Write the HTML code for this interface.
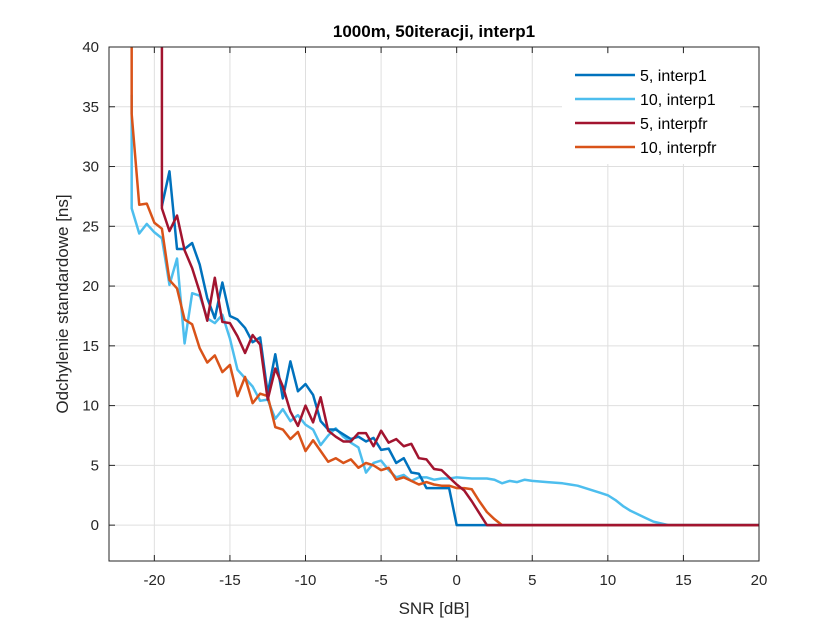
<!DOCTYPE html>
<html><head><meta charset="utf-8"><style>
body{margin:0;background:#fff;font-family:"Liberation Sans",Arial,sans-serif}
</style></head><body>
<svg id="c" width="840" height="630" xmlns="http://www.w3.org/2000/svg"></svg>
<script>
const xs5 = [-19.5,-19,-18.5,-18,-17.5,-17,-16.5,-16,-15.5,-15,-14.5,-14,-13.5,-13,-12.5,-12,-11.5,-11,-10.5,-10,-9.5,-9,-8.5,-8,-7.5,-7,-6.5,-6,-5.5,-5,-4.5,-4,-3.5,-3,-2.5,-2,-1.5,-1,-0.5,0,20];
const blue5 = [26.7,29.6,23.1,23.1,23.6,21.8,19.0,17.3,20.3,17.5,17.2,16.5,15.3,15.7,11.0,14.3,10.6,13.7,11.2,11.8,10.9,8.7,8.0,8.0,7.6,7.2,7.4,7.0,7.3,6.3,6.4,5.2,5.6,4.4,4.3,3.1,3.1,3.1,3.1,0,0];
const xsR = [-19.5,-19.5,-19,-18.5,-18,-17.5,-17,-16.5,-16,-15.5,-15,-14.5,-14,-13.5,-13,-12.5,-12,-11.5,-11,-10.5,-10,-9.5,-9,-8.5,-8,-7.5,-7,-6.5,-6,-5.5,-5,-4.5,-4,-3.5,-3,-2.5,-2,-1.5,-1,-0.5,0,0.5,1,1.5,2,20];
const red5 = [45,26.5,24.6,25.9,23.0,21.5,19.5,17.1,20.7,17.0,16.9,15.8,14.4,15.9,15.1,10.5,13.1,11.6,9.5,8.3,10.0,8.6,10.7,7.9,7.4,7.0,7.0,7.7,7.7,6.6,7.9,6.9,7.2,6.6,6.8,5.6,5.5,4.7,4.6,4.0,3.4,2.9,2.0,1.0,0,0];
const xsL = [-21.5,-21.5,-21,-20.5,-20,-19.5,-19,-18.5,-18,-17.5,-17,-16.5,-16,-15.5,-15,-14.5,-14,-13.5,-13,-12.5,-12,-11.5,-11,-10.5,-10,-9.5,-9,-8.5,-8,-7.5,-7,-6.5,-6,-5.5,-5,-4.5,-4,-3.5,-3,-2.5,-2,-1.5,-1,-0.5,0,1,2,2.5,3,3.5,4,4.5,5,6,7,7.5,8,8.5,9,9.5,10,10.5,11,11.5,12,12.5,13,14,20];
const blue10 = [36,26.5,24.4,25.2,24.5,24.0,20.1,22.3,15.2,19.4,19.2,17.3,16.9,17.6,15.6,13.0,12.3,11.6,10.4,10.5,8.9,9.7,8.7,9.2,8.4,8.0,6.7,7.5,8.1,7.4,6.9,6.5,4.4,5.2,5.4,4.6,4.0,4.2,3.7,4.0,4.0,3.8,3.9,3.9,4.0,3.9,3.9,3.8,3.5,3.7,3.6,3.8,3.7,3.6,3.5,3.4,3.3,3.1,2.9,2.7,2.5,2.1,1.6,1.2,0.9,0.6,0.3,0,0];
const xsO = [-21.5,-21.5,-21,-20.5,-20,-19.5,-19,-18.5,-18,-17.5,-17,-16.5,-16,-15.5,-15,-14.5,-14,-13.5,-13,-12.5,-12,-11.5,-11,-10.5,-10,-9.5,-9,-8.5,-8,-7.5,-7,-6.5,-6,-5.5,-5,-4.5,-4,-3.5,-3,-2.5,-2,-1.5,-1,-0.5,0,0.5,1,1.5,2,2.5,3,20];
const orange10 = [45,34.4,26.8,26.9,25.3,24.8,20.5,19.8,17.2,16.8,14.8,13.6,14.2,12.8,13.4,10.8,12.4,10.2,11.0,10.8,8.2,8.0,7.2,7.8,6.2,7.1,6.2,5.3,5.6,5.2,5.5,4.8,5.2,5.0,4.6,4.8,3.8,4.0,3.7,3.4,3.6,3.4,3.3,3.3,3.1,3.1,3.0,2.0,1.1,0.5,0,0];
const xTicks = [-20,-15,-10,-5,0,5,10,15,20];
const yTicks = [0,5,10,15,20,25,30,35,40];

const NS="http://www.w3.org/2000/svg", svg=document.getElementById('c');
const L=109,R=759,T=47,B=561, X0=-23,X1=20,Y0=-3,Y1=40;
const sx=v=>L+(v-X0)/(X1-X0)*(R-L), sy=v=>B-(v-Y0)/(Y1-Y0)*(B-T);
function mk(t,a,txt){const e=document.createElementNS(NS,t);for(const k in a)e.setAttribute(k,a[k]);if(txt!==undefined)e.textContent=txt;svg.appendChild(e);return e;}
const defs=mk('defs',{});const cp=document.createElementNS(NS,'clipPath');cp.setAttribute('id','cl');
const cr=document.createElementNS(NS,'rect');cr.setAttribute('x',L);cr.setAttribute('y',T);cr.setAttribute('width',R-L);cr.setAttribute('height',B-T);cp.appendChild(cr);defs.appendChild(cp);
xTicks.forEach(v=>{const g=mk('line',{x1:sx(v),x2:sx(v),y1:T,y2:B,stroke:'#dfdfdf','stroke-width':1});

const t=mk('text',{x:sx(v),y:B+24,'text-anchor':'middle','font-size':15,fill:'#262626'},String(v));

mk('line',{x1:sx(v),x2:sx(v),y1:B,y2:B-6,stroke:'#262626'});mk('line',{x1:sx(v),x2:sx(v),y1:T,y2:T+6,stroke:'#262626'});});
yTicks.forEach(v=>{const g=mk('line',{x1:L,x2:R,y1:sy(v),y2:sy(v),stroke:'#dfdfdf','stroke-width':1});

const t=mk('text',{x:L-10,y:sy(v)+5,'text-anchor':'end','font-size':15,fill:'#262626'},String(v));

mk('line',{x1:L,x2:L+6,y1:sy(v),y2:sy(v),stroke:'#262626'});mk('line',{x1:R,x2:R-6,y1:sy(v),y2:sy(v),stroke:'#262626'});});
const series=[[xs5,blue5,'#0072bd','series-5-interp1'],[xsL,blue10,'#4dbeee','series-10-interp1'],[xsR,red5,'#a2142f','series-5-interpfr'],[xsO,orange10,'#d95319','series-10-interpfr']];
[series[1],series[0],series[3],series[2]].forEach(s=>{
  const p=mk('polyline',{points:s[0].map((x,i)=>sx(x)+','+sy(s[1][i])).join(' '),fill:'none',stroke:s[2],'stroke-width':2.5,'stroke-linejoin':'round','clip-path':'url(#cl)'});
  });
const ax=mk('rect',{x:L,y:T,width:R-L,height:B-T,fill:'none',stroke:'#262626','stroke-width':1});

const ti=mk('text',{x:434,y:37,'text-anchor':'middle','font-size':17,'font-weight':'bold',fill:'#000'},'1000m, 50iteracji, interp1');

const xl=mk('text',{x:434,y:614,'text-anchor':'middle','font-size':17,fill:'#262626'},'SNR [dB]');

const yl=mk('text',{x:0,y:0,'text-anchor':'middle','font-size':17,fill:'#262626',transform:'translate(68,304) rotate(-90)'},'Odchylenie standardowe [ns]');

const lb=mk('rect',{x:562,y:54,width:178,height:110,fill:'#fff',stroke:'none'});

['5, interp1','10, interp1','5, interpfr','10, interpfr'].forEach((n,i)=>{const y=75+i*24;
 const l=mk('line',{x1:575,x2:635,y1:y,y2:y,stroke:series[i][2],'stroke-width':2.5});
 
 const t=mk('text',{x:640,y:y+6,'font-size':16,fill:'#000'},n);
 });
</script>
</body></html>
